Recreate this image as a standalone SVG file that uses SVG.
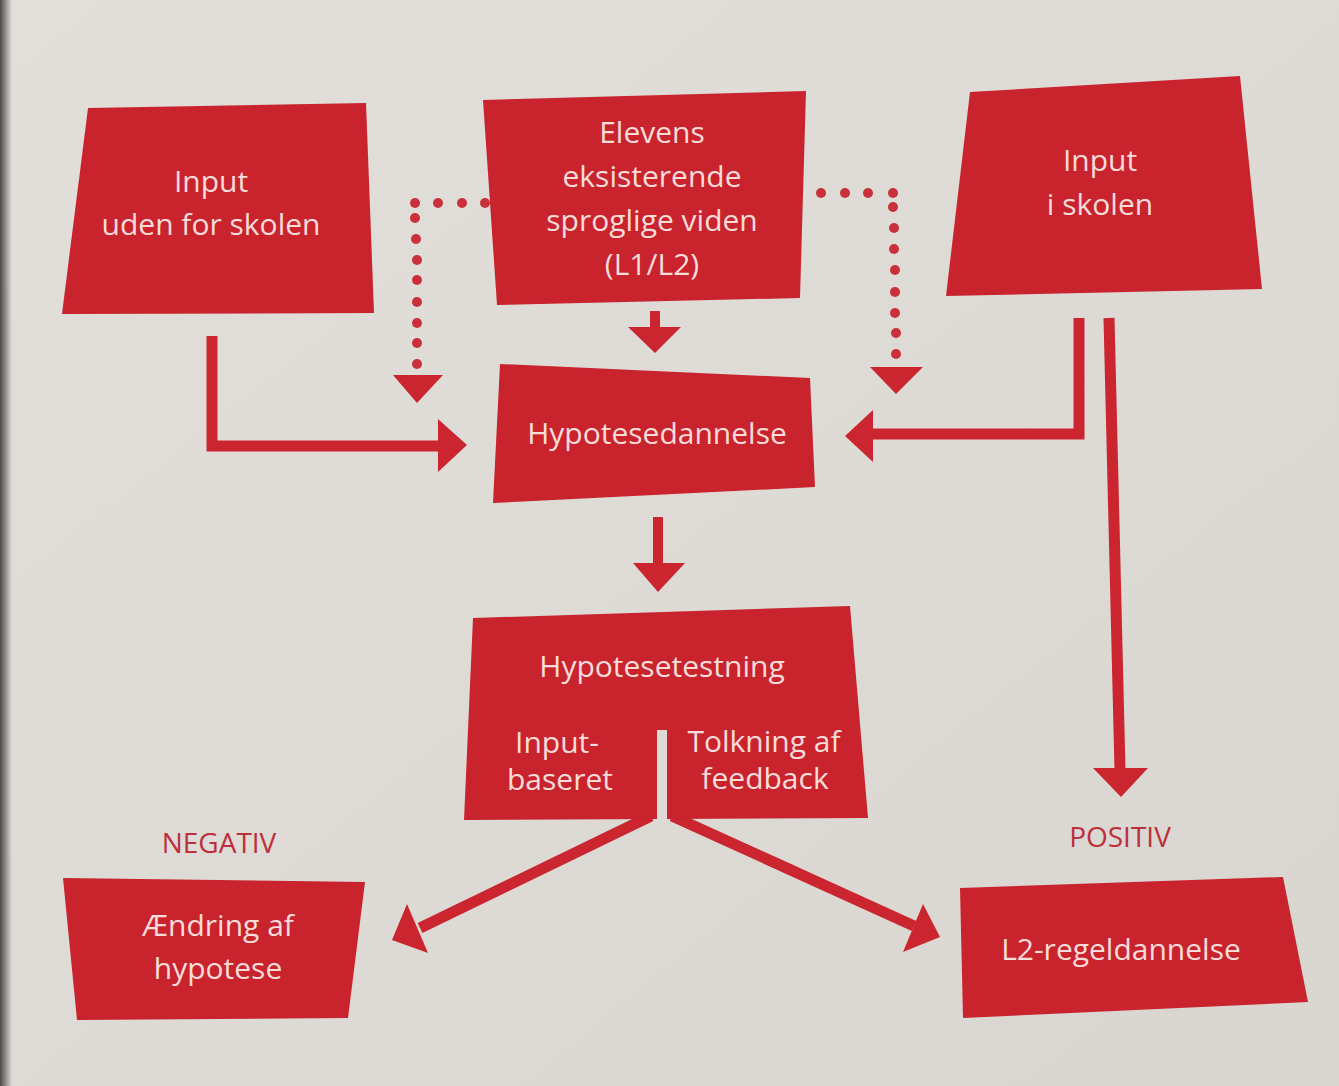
<svg xmlns="http://www.w3.org/2000/svg" width="1339" height="1086" viewBox="0 0 1339 1086">
<style>
  .box { fill: #c9232e; }
  .t { font-family: "Open Sans", "Liberation Sans", sans-serif; font-size: 30px; fill: #f7dcd9; text-anchor: middle; }
  .lbl { font-family: "Open Sans", "Liberation Sans", sans-serif; font-size: 28px; fill: #bd2f3b; text-anchor: middle; }
  .ln { stroke: #cb2530; stroke-width: 11; fill: none; stroke-linecap: butt; stroke-linejoin: miter; }
  .hd { fill: #cb2530; }
  .dot { fill: #c9303a; }
</style>
<defs>
  <linearGradient id="bg" x1="0" y1="0" x2="1" y2="1">
    <stop offset="0" stop-color="#e2dfdb"/>
    <stop offset="0.5" stop-color="#dedbd6"/>
    <stop offset="1" stop-color="#d9d5d0"/>
  </linearGradient>
  <linearGradient id="edge" x1="0" y1="0" x2="1" y2="0">
    <stop offset="0" stop-color="#4a4a4a"/>
    <stop offset="1" stop-color="#4a4a4a" stop-opacity="0"/>
  </linearGradient>
</defs>
<rect x="0" y="0" width="1339" height="1086" fill="url(#bg)"/>
<rect x="0" y="0" width="12" height="1086" fill="url(#edge)"/>

<g id="connectors">
  <!-- left L arrow -->
  <polyline class="ln" points="212,336 212,446 438,446"/>
  <polygon class="hd" points="438,419 467,445 438,472"/>
  <!-- right L arrow -->
  <polyline class="ln" points="1079,318 1079,434 873,434"/>
  <polygon class="hd" points="873,410 845,436 873,462"/>
  <!-- long vertical arrow to POSITIV -->
  <line class="ln" x1="1109" y1="318" x2="1120" y2="770"/>
  <polygon class="hd" points="1093,768 1148,768 1121,797"/>
  <!-- middle top arrow -->
  <line class="ln" x1="655" y1="311" x2="655" y2="328" style="stroke-width:10"/>
  <polygon class="hd" points="628,327 681,327 655,353"/>
  <!-- middle lower arrow -->
  <line class="ln" x1="658" y1="517" x2="658" y2="564" style="stroke-width:10"/>
  <polygon class="hd" points="633,563 685,563 658,592"/>
  <!-- left dotted -->
  <g class="dot">
    <circle cx="485" cy="203" r="5"/>
    <circle cx="462" cy="203" r="5"/>
    <circle cx="438" cy="203" r="5"/>
    <circle cx="415" cy="203" r="5"/>
    <circle cx="415" cy="218" r="5"/>
    <circle cx="416" cy="239" r="5"/>
    <circle cx="417" cy="260" r="5"/>
    <circle cx="417" cy="280" r="5"/>
    <circle cx="417" cy="302" r="5"/>
    <circle cx="417" cy="323" r="5"/>
    <circle cx="417" cy="343" r="5"/>
    <circle cx="417" cy="364" r="5"/>
  </g>
  <polygon class="hd" points="393,375 443,375 417,403"/>
  <!-- right dotted -->
  <g class="dot">
    <circle cx="821" cy="193" r="5"/>
    <circle cx="845" cy="193" r="5"/>
    <circle cx="868" cy="193" r="5"/>
    <circle cx="893" cy="193" r="5"/>
    <circle cx="893" cy="207" r="5"/>
    <circle cx="894" cy="228" r="5"/>
    <circle cx="894" cy="249" r="5"/>
    <circle cx="895" cy="270" r="5"/>
    <circle cx="895" cy="292" r="5"/>
    <circle cx="895" cy="313" r="5"/>
    <circle cx="896" cy="333" r="5"/>
    <circle cx="896" cy="354" r="5"/>
  </g>
  <polygon class="hd" points="870,367 923,367 896,394"/>
  <!-- diagonal arrows from Hypotesetestning -->
  <line class="ln" x1="651" y1="816" x2="420" y2="928"/>
  <polygon class="hd" points="392,940 407,904 428,953"/>
  <line class="ln" x1="672" y1="816" x2="914" y2="926"/>
  <polygon class="hd" points="940,937 923,904 903,952"/>
</g>

<g id="node-input-uden">
  <polygon class="box" points="88,108 366,103 374,313 62,314"/>
  <text class="t" x="211" y="192">Input</text>
  <text class="t" x="211" y="235">uden for skolen</text>
</g>

<g id="node-elevens">
  <polygon class="box" points="483,100 806,91 800,298 497,305"/>
  <text class="t" x="652" y="143">Elevens</text>
  <text class="t" x="652" y="187">eksisterende</text>
  <text class="t" x="652" y="231">sproglige viden</text>
  <text class="t" x="652" y="275">(L1/L2)</text>
</g>

<g id="node-input-i">
  <polygon class="box" points="970,92 1240,76 1262,289 946,296"/>
  <text class="t" x="1100" y="171">Input</text>
  <text class="t" x="1100" y="215">i skolen</text>
</g>

<g id="node-hypotesedannelse">
  <polygon class="box" points="500,364 810,378 815,487 493,503"/>
  <text class="t" x="657" y="444">Hypotesedannelse</text>
</g>

<g id="node-hypotesetestning">
  <polygon class="box" points="473,618 850,606 868,818 464,820"/>
  <rect x="657" y="730" width="10" height="95" fill="#dedbd6"/>
  <text class="t" x="662" y="677">Hypotesetestning</text>
  <text class="t" x="557" y="753">Input-</text>
  <text class="t" x="560" y="790">baseret</text>
  <text class="t" x="764" y="752">Tolkning af</text>
  <text class="t" x="765" y="789">feedback</text>
</g>

<g id="label-negativ">
  <text class="lbl" x="219" y="853">NEGATIV</text>
</g>

<g id="node-aendring">
  <polygon class="box" points="63,878 365,882 348,1018 77,1020"/>
  <text class="t" x="218" y="936">Ændring af</text>
  <text class="t" x="218" y="979">hypotese</text>
</g>

<g id="label-positiv">
  <text class="lbl" x="1120" y="847">POSITIV</text>
</g>

<g id="node-l2">
  <polygon class="box" points="960,888 1283,877 1308,1002 963,1018"/>
  <text class="t" x="1121" y="960">L2-regeldannelse</text>
</g>
</svg>
